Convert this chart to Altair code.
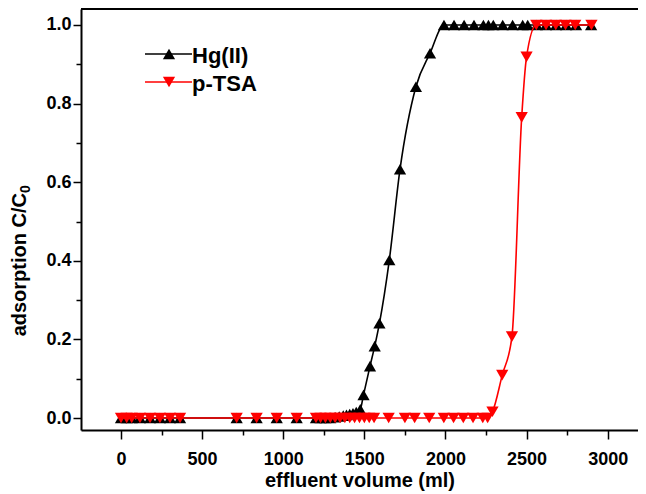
import altair as alt
import pandas as pd

# ---- data ----
hg_x = [0, 35, 66, 117, 179, 240, 302, 364, 713, 836, 960, 1083,
        1202, 1230, 1260, 1290, 1320, 1345, 1370, 1390, 1410, 1430, 1450, 1475, 1495,
        1535, 1564, 1593, 1654, 1720, 1818, 1905,
        1991, 2053, 2115, 2176, 2234, 2265, 2295, 2353, 2414, 2476, 2507,
        2563, 2620, 2682, 2744, 2805, 2898]
hg_y = [0, 0, 0, 0, 0, 0, 0, 0, 0, 0, 0, 0,
        0, 0, 0, 0, 0.002, 0.004, 0.006, 0.008, 0.010, 0.012, 0.015, 0.022, 0.059,
        0.132, 0.183, 0.241, 0.402, 0.633, 0.843, 0.928,
        1, 1, 1, 1, 1, 1, 1, 1, 1, 1, 1,
        1, 1, 1, 1, 1, 1]

tsa_x = [0, 35, 66, 117, 179, 240, 302, 364, 713, 836, 960, 1083,
         1202, 1230, 1260, 1290, 1320, 1350, 1380, 1410, 1440, 1470, 1500, 1530, 1560,
         1650, 1750, 1810, 1900, 1990, 2050, 2110, 2170, 2230, 2260,
         2290, 2350, 2410, 2470, 2500,
         2560, 2620, 2680, 2740, 2800, 2900]
tsa_y = [0, 0, 0, 0, 0, 0, 0, 0, 0, 0, 0, 0,
         0, 0, 0, 0, 0, 0, 0, 0, 0, 0, 0, 0, 0,
         0, 0, 0, 0, 0, 0, 0, 0, 0, 0,
         0.016, 0.109, 0.207, 0.765, 0.919,
         1, 1, 1, 1, 1, 1]

series_names = ["Hg(II)", "p-TSA"]
x_major = [0, 500, 1000, 1500, 2000, 2500, 3000]
x_minor = [250, 750, 1250, 1750, 2250, 2750]
y_major = [0.0, 0.2, 0.4, 0.6, 0.8, 1.0]
y_minor = [0.1, 0.3, 0.5, 0.7, 0.9]

df_hg = pd.DataFrame({"x": hg_x, "y": hg_y})
df_tsa = pd.DataFrame({"x": tsa_x, "y": tsa_y})
one = pd.DataFrame({"a": [0]})

W, H = 557, 421
FONT = "Liberation Sans"
MS = 150
xs = alt.Scale(domain=[-246.6, 3187], nice=False, zero=False)
ys = alt.Scale(domain=[-0.0305, 1.0407], nice=False, zero=False)

major_x = alt.Axis(values=x_major, orient="bottom", title="effluent volume (ml)", format="d",
                   grid=False, tickSize=9, tickWidth=1.5, tickColor="black",
                   domainColor="black", domainWidth=2,
                   labelFont=FONT, labelFontSize=18, labelFontWeight="bold", labelColor="black",
                   labelBaseline="alphabetic", labelPadding=25, labelFlush=False,
                   titleFont=FONT, titleFontSize=20, titleFontWeight="bold", titleColor="black",
                   titleBaseline="alphabetic", titleY=56)
major_y = alt.Axis(values=y_major, orient="left", title=None, format=".1f",
                   grid=False, tickSize=8, tickWidth=1.5, tickColor="black",
                   domainColor="black", domainWidth=2,
                   labelFont=FONT, labelFontSize=18, labelFontWeight="bold", labelColor="black",
                   labelPadding=2, labelFlush=False)
minor_x = alt.Axis(values=x_minor, orient="bottom", title=None, labels=False, domain=False,
                   grid=False, tickSize=5, tickWidth=1.5, tickColor="black")
minor_y = alt.Axis(values=y_minor, orient="left", title=None, labels=False, domain=False,
                   grid=False, tickSize=5, tickWidth=1.5, tickColor="black")

hg_line = alt.Chart(df_hg).mark_line(color="black", strokeWidth=1.6, interpolate="monotone").encode(
    x=alt.X("x:Q", scale=xs, axis=major_x), y=alt.Y("y:Q", scale=ys, axis=major_y))
minor = alt.Chart(df_hg).mark_point(opacity=0).encode(
    x=alt.X("x:Q", scale=xs, axis=minor_x), y=alt.Y("y:Q", scale=ys, axis=minor_y))
hg_pts = alt.Chart(df_hg).mark_point(shape="triangle-up", filled=True, color="black",
                                     size=MS, opacity=1).encode(
    x=alt.X("x:Q", scale=xs, axis=None), y=alt.Y("y:Q", scale=ys, axis=None))
tsa_line = alt.Chart(df_tsa).mark_line(color="#ff0000", strokeWidth=1.6, interpolate="monotone").encode(
    x=alt.X("x:Q", scale=xs, axis=None), y=alt.Y("y:Q", scale=ys, axis=None))
tsa_pts = alt.Chart(df_tsa).mark_point(shape="triangle-down", filled=True, color="#ff0000",
                                       size=MS, opacity=1).encode(
    x=alt.X("x:Q", scale=xs, axis=None), y=alt.Y("y:Q", scale=ys, axis=None))

top_border = alt.Chart(one).mark_rule(color="black", strokeWidth=2).encode(
    x=alt.value(0), x2=alt.value(W + 8), y=alt.value(0))

# legend
leg = []
for name, col, shp, yy in [(series_names[0], "black", "triangle-up", 45),
                           (series_names[1], "#ff0000", "triangle-down", 73)]:
    leg.append(alt.Chart(one).mark_rule(color=col, strokeWidth=1.6).encode(
        x=alt.value(64), x2=alt.value(111), y=alt.value(yy)))
    leg.append(alt.Chart(one).mark_point(shape=shp, filled=True, color=col, size=MS, opacity=1).encode(
        x=alt.value(88), y=alt.value(yy)))
    leg.append(alt.Chart(one).mark_text(text=name, font=FONT, fontSize=22, fontWeight="bold",
                                        color="black", align="left", baseline="middle").encode(
        x=alt.value(111), y=alt.value(yy + 1.5)))

# y title with subscript
ytitle = alt.Chart(one).mark_text(text="adsorption C/C", font=FONT, fontSize=20, fontWeight="bold",
                                  color="black", angle=270, align="right", baseline="alphabetic").encode(
    x=alt.value(-55), y=alt.value(184))
ysub = alt.Chart(one).mark_text(text="0", font=FONT, fontSize=14, fontWeight="bold",
                                color="black", angle=270, align="left", baseline="alphabetic").encode(
    x=alt.value(-51), y=alt.value(184))

chart = alt.layer(hg_line, minor, hg_pts, tsa_line, tsa_pts, top_border, *leg, ytitle, ysub).resolve_axis(
    x="independent", y="independent"
).properties(
    width=W, height=H,
    autosize=alt.AutoSizeParams(type="none"),
    padding={"left": 73, "top": 1, "right": 0, "bottom": 62},
).configure_view(stroke=None).configure(background="white")

chart.save("out.html", embed_options={"renderer": "svg", "actions": False})
